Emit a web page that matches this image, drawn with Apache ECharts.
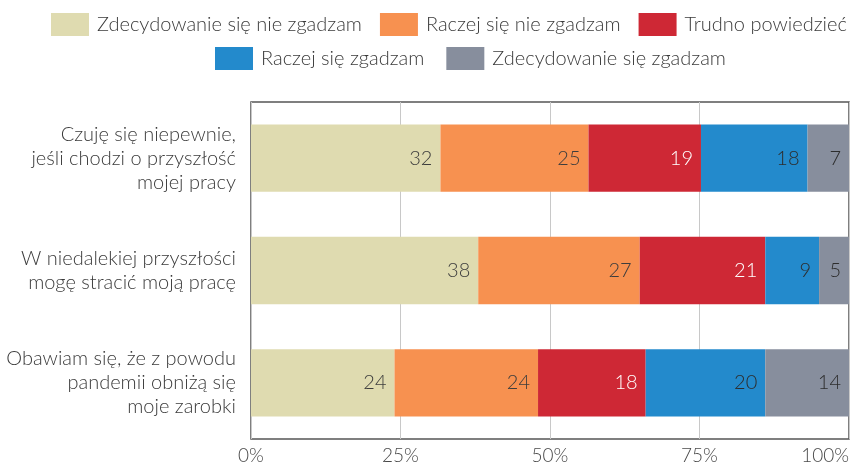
<!DOCTYPE html>
<html>
<head>
<meta charset="utf-8">
<script src="https://cdn.jsdelivr.net/npm/echarts@6/dist/echarts.min.js"></script>
<style>
  html, body { margin: 0; padding: 0; background: #fff; }
  #chart { width: 853px; height: 466px; }
</style>
</head>
<body>
<div id="chart"></div>
<script>
  // kategorie (od góry)
  var categories = [
    'Czuję się niepewnie,\njeśli chodzi o przyszłość\nmojej pracy',
    'W niedalekiej przyszłości\nmogę stracić moją pracę',
    'Obawiam się, że z powodu\npandemii obniżą się\nmoje zarobki'
  ]
  var seriesNames = [
    'Zdecydowanie się nie zgadzam',
    'Raczej się nie zgadzam',
    'Trudno powiedzieć',
    'Raczej się zgadzam',
    'Zdecydowanie się zgadzam'
  ]
  var stronglyDisagree = [32, 38, 24]
  var ratherDisagree = [25, 27, 24]
  var hardToSay = [19, 21, 18]
  var ratherAgree = [18, 9, 20]
  var stronglyAgree = [7, 5, 14]
  var tickLabels = ['0%', '25%', '50%', '75%', '100%']

  var colors = ['#dfdbb0', '#f79150', '#ce2835', '#238acc', '#878e9d']
  var labelColors = ['#3d3d3d', '#3d3d3d', '#ffffff', '#2d2d2d', '#2d2d2d']
  var font = 'Lato, "Noto Sans", sans-serif'

  var rows = [stronglyDisagree, ratherDisagree, hardToSay, ratherAgree, stronglyAgree]
  // suma w wierszu (np. 101 z zaokrągleń) -> 100%
  var totals = categories.map(function(c, i) {
    return rows.reduce(function(s, r) { return s + r[i] }, 0)
  })

  var chart = echarts.init(document.getElementById('chart'))

  var legendText = { fontSize: 20, fontWeight: 300, color: '#3a3a3a', fontFamily: font, padding: [0, 0, 0, 3] }

  var option = {
    animation: false,
    textStyle: { fontFamily: font },
    legend: [{
      data: seriesNames.slice(0, 3),
      left: 51,
      top: 13,
      padding: 0,
      itemWidth: 38,
      itemHeight: 23,
      itemGap: 18,
      icon: 'rect',
      textStyle: legendText
    }, {
      data: seriesNames.slice(3),
      left: 215,
      top: 47,
      padding: 0,
      itemWidth: 38,
      itemHeight: 23,
      itemGap: 22,
      icon: 'rect',
      textStyle: legendText
    }],
    grid: {
      left: 251,
      right: 4,
      top: 102,
      bottom: 27,
      outerBoundsMode: 'none',
      containLabel: false,
      show: true,
      borderColor: '#555',
      borderWidth: 1.5,
      backgroundColor: 'transparent'
    },
    xAxis: {
      type: 'value',
      min: 0,
      max: 100,
      interval: 25,
      axisLine: { show: false },
      axisTick: { show: false },
      splitLine: { show: true, lineStyle: { color: '#c8c8c8', width: 1 } },
      axisLabel: {
        fontSize: 19,
        fontWeight: 300,
        color: '#4a4a4a',
        margin: 7,
        alignMaxLabel: 'right',
        formatter: function(v) { return tickLabels[v / 25] }
      }
    },
    yAxis: {
      type: 'category',
      inverse: true,
      data: categories,
      axisLine: { show: false },
      axisTick: { show: false },
      axisLabel: {
        fontSize: 20,
        fontWeight: 300,
        color: '#3a3a3a',
        lineHeight: 24,
        margin: 15,
        align: 'right'
      }
    },
    series: rows.map(function(row, k) {
      return {
        name: seriesNames[k],
        type: 'bar',
        stack: 'all',
        barWidth: '60%',
        itemStyle: { color: colors[k] },
        label: {
          show: true,
          position: 'insideRight',
          distance: 8,
          fontSize: 20,
          fontWeight: 300,
          color: labelColors[k],
          formatter: function(p) { return row[p.dataIndex] }
        },
        data: row.map(function(v, i) { return v / totals[i] * 100 })
      }
    })
  }

  chart.setOption(option)
</script>
</body>
</html>
